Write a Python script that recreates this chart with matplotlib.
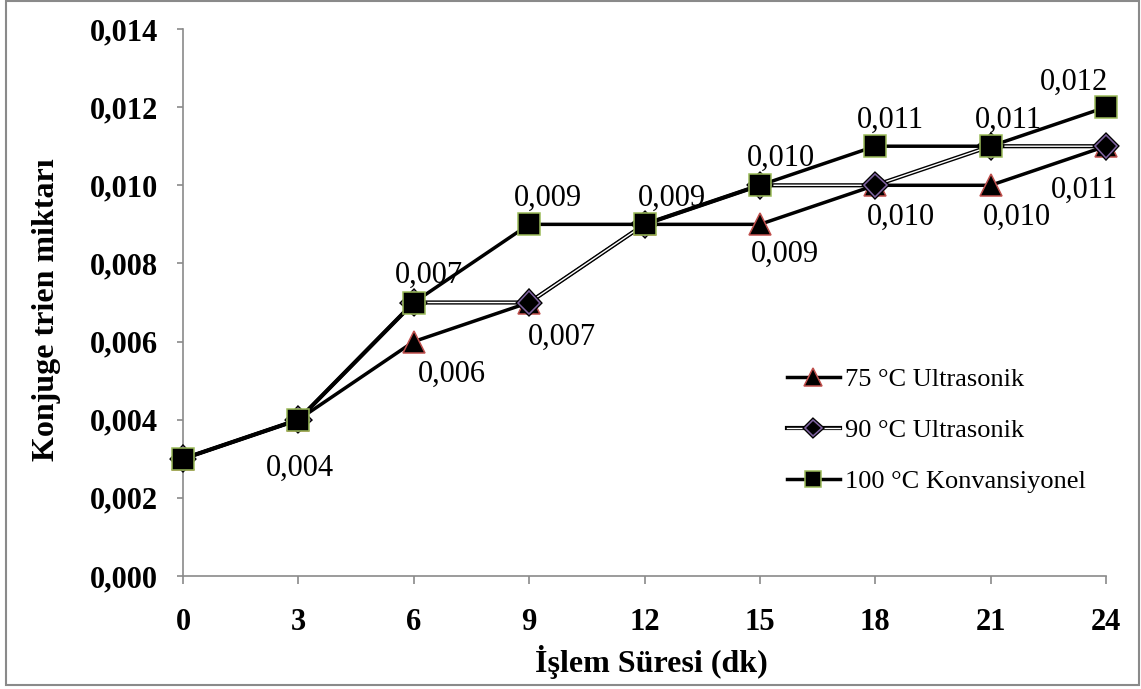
import matplotlib
matplotlib.use("Agg")
import matplotlib.pyplot as plt
from matplotlib import patheffects as pe
from matplotlib.patches import Rectangle
from matplotlib.ticker import FuncFormatter

# Processing time (minutes) and conjugated triene amounts
sure_dk = [0, 3, 6, 9, 12, 15, 18, 21, 24]
ultrasonik_75 = [0.003, 0.004, 0.006, 0.007, 0.009, 0.009, 0.010, 0.010, 0.011]
ultrasonik_90 = [0.003, 0.004, 0.007, 0.007, 0.009, 0.010, 0.010, 0.011, 0.011]
konvansiyonel_100 = [0.003, 0.004, 0.007, 0.009, 0.009, 0.010, 0.011, 0.011, 0.012]
seri_adlari = ["75 °C Ultrasonik", "90 °C Ultrasonik", "100 °C Konvansiyonel"]
y_ticks = [0.000, 0.002, 0.004, 0.006, 0.008, 0.010, 0.012, 0.014]

# Data-label placement (pixel offsets from the point) for the labelled points
alt_etiketler = {1: (2, -34), 2: (38, -18), 3: (33, -20), 5: (25, -15),
                 6: (26, -18), 7: (26, -18), 8: (-22, -30)}
ust_etiketler = {2: (15, 20), 3: (19, 19), 4: (27, 19), 5: (21, 19),
                 6: (15, 18), 7: (18, 18), 8: (-32, 17)}

SERIF = "Liberation Serif"
GRAY = "#8a8a8a"

fig = plt.figure(figsize=(11.41, 6.89), dpi=100)
W, H = 1141, 689
ax = fig.add_axes([183 / W, 1 - 576 / H, (1106 - 183) / W, (576 - 29) / H])

lw = 2.5
ax.plot(sure_dk, ultrasonik_75, color="black", lw=lw, marker="^", ms=16.5,
        mfc="black", mec="#C0504D", mew=1.1, clip_on=False, label=seri_adlari[0],
        zorder=3)
ax.plot(sure_dk, ultrasonik_90, color="white", lw=1.0, marker="D", ms=11.5,
        mfc="black", mec="#8064A2", mew=1.1, clip_on=False, label=seri_adlari[1],
        path_effects=[pe.Stroke(linewidth=3.0, foreground="black"), pe.Normal()],
        zorder=4)
ax.plot(sure_dk, konvansiyonel_100, color="black", lw=lw, marker="s", ms=15.5,
        mfc="black", mec="#9BBB59", mew=1.1, clip_on=False, label=seri_adlari[2],
        zorder=5)


def virgul(v):
    return f"{v:.3f}".replace(".", ",")


for i, (dx, dy) in alt_etiketler.items():
    ax.annotate(virgul(ultrasonik_75[i]), (sure_dk[i], ultrasonik_75[i]),
                xytext=(dx, dy), textcoords="offset pixels", ha="center",
                va="top", fontsize=22, family=SERIF, zorder=6,
                annotation_clip=False)
for i, (dx, dy) in ust_etiketler.items():
    ax.annotate(virgul(konvansiyonel_100[i]), (sure_dk[i], konvansiyonel_100[i]),
                xytext=(dx, dy), textcoords="offset pixels", ha="center",
                va="baseline", fontsize=22, family=SERIF, zorder=6,
                annotation_clip=False)

ax.set_xlim(0, 24)
ax.set_ylim(0, 0.014)
ax.set_xticks(sure_dk)
ax.set_xticklabels([str(s) for s in sure_dk])
ax.set_yticks(y_ticks)
ax.yaxis.set_major_formatter(FuncFormatter(lambda v, p: virgul(v)))

for side in ("top", "right"):
    ax.spines[side].set_visible(False)
for side in ("left", "bottom"):
    ax.spines[side].set_color(GRAY)
    ax.spines[side].set_linewidth(1.2)

ax.tick_params(axis="y", direction="out", length=4.5, width=1.2, color=GRAY,
               pad=13.5, labelsize=22)
ax.tick_params(axis="x", direction="out", length=6, width=1.2, color=GRAY,
               pad=17, labelsize=22)
for lab in ax.get_xticklabels() + ax.get_yticklabels():
    lab.set_fontfamily(SERIF)
    lab.set_fontweight("bold")

fig.text(651 / W, 1 - 662 / H, "İşlem Süresi (dk)", ha="center", va="center",
         fontsize=23, fontweight="bold", family=SERIF)
fig.text(47 / W, 1 - 310 / H, "Konjuge trien miktarı", ha="center", va="center",
         rotation=90, fontsize=23, fontweight="bold", family=SERIF)

ax.legend(loc="center left", bbox_to_anchor=(787 / W, 1 - 430.5 / H),
          bbox_transform=fig.transFigure, frameon=False, borderpad=0,
          borderaxespad=0, handlelength=2.0, handletextpad=0.2,
          labelspacing=1.05, markerscale=0.75,
          prop={"family": SERIF, "size": 19})

fig.patches.append(Rectangle((6 / W, 1 - 685 / H), (1139 - 6) / W, (685 - 1) / H,
                             transform=fig.transFigure, fill=False,
                             edgecolor=GRAY, lw=1.5))

fig.savefig("out.png", dpi=100)
